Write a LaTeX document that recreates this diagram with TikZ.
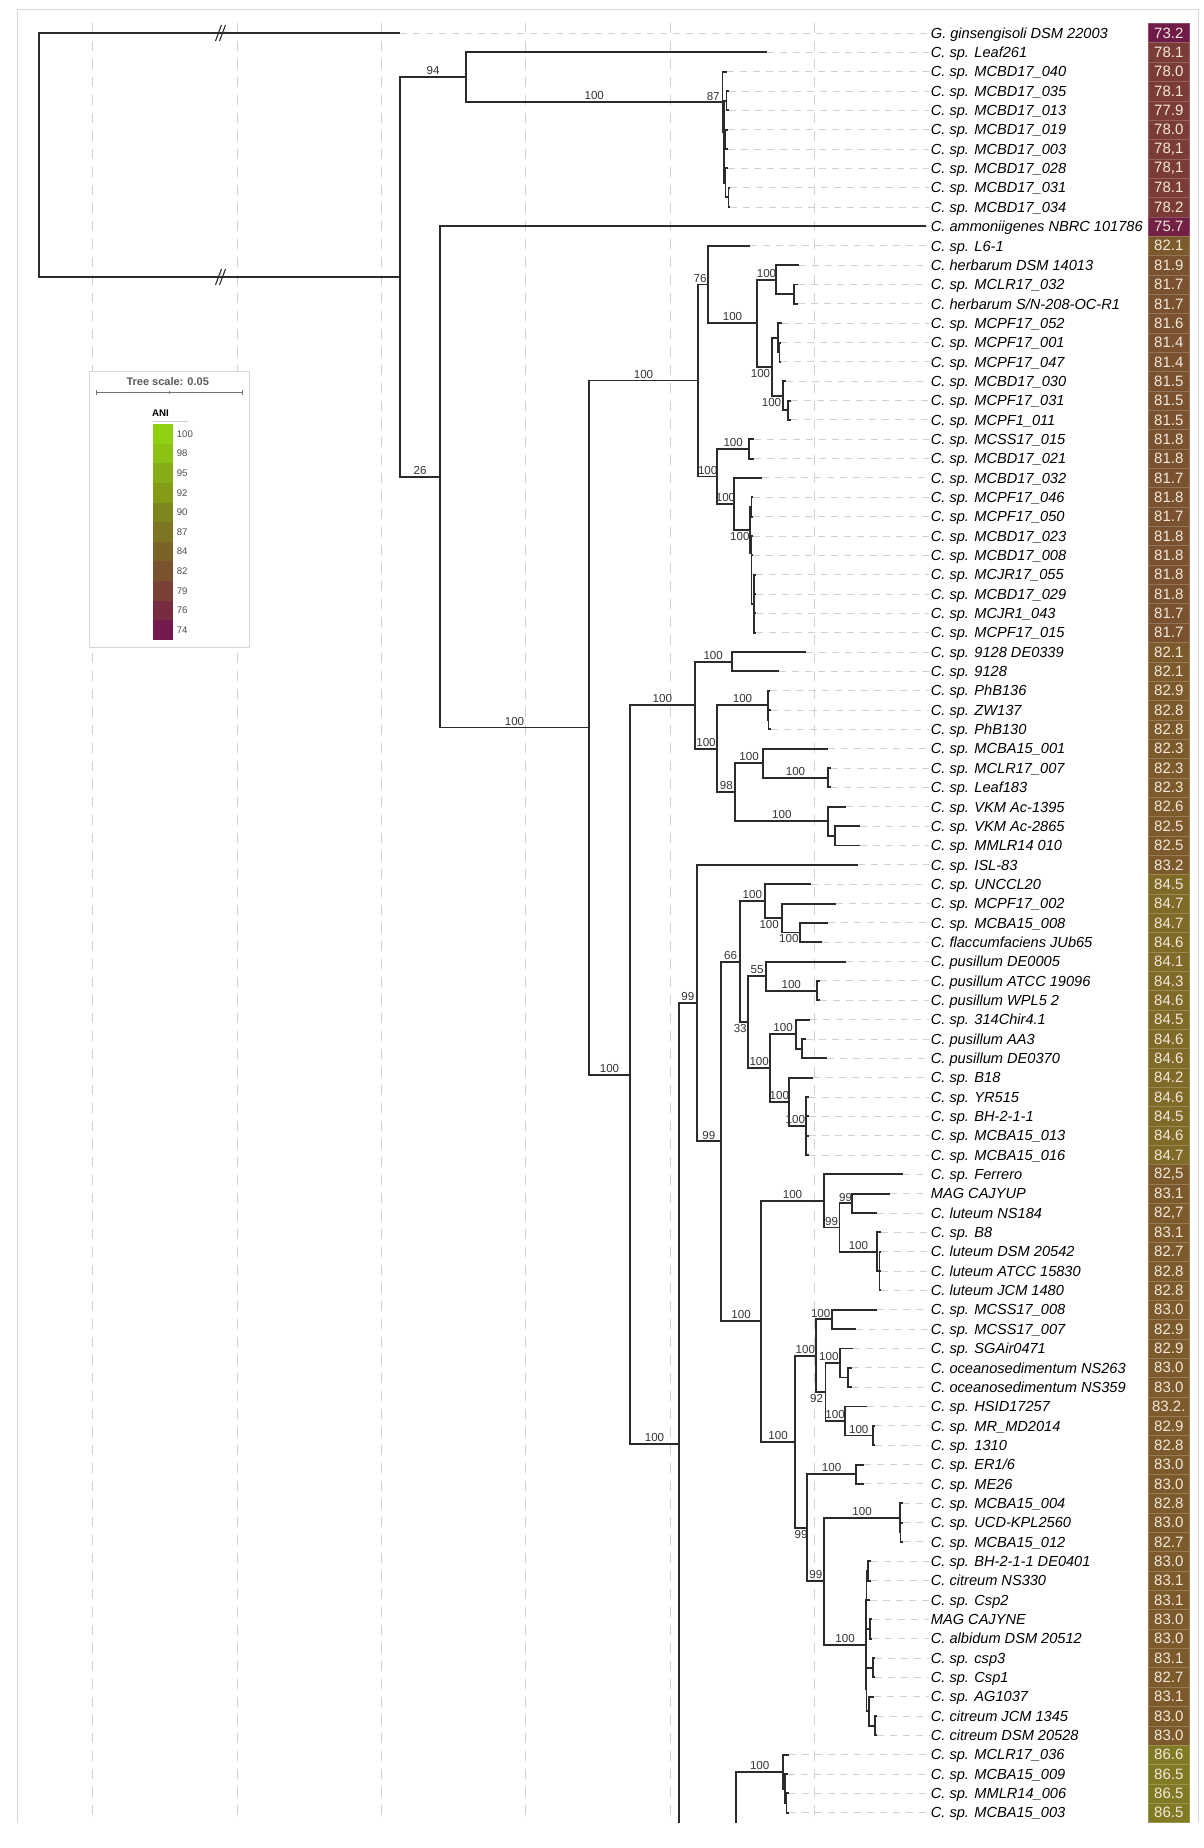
\documentclass[tikz,border=0pt]{standalone}
\usepackage{fontspec}
\setmainfont{Liberation Sans}

\definecolor{treeline}{HTML}{2B2B2B}
\definecolor{gridgray}{HTML}{D0D0D0}
\definecolor{framegray}{HTML}{D6D6D6}
\definecolor{bstext}{HTML}{353535}
\definecolor{anitext}{RGB}{242,232,220}
\definecolor{aniA}{RGB}{112,26,72}
\definecolor{aniB}{RGB}{114,32,68}
\definecolor{aniC}{RGB}{123,59,54}
\definecolor{aniD}{RGB}{123,82,47}
\definecolor{aniE}{RGB}{125,90,44}
\definecolor{aniF}{RGB}{127,106,40}
\definecolor{aniG}{RGB}{128,122,36}
\definecolor{leg100}{HTML}{8FD011}
\definecolor{leg98}{HTML}{8CC214}
\definecolor{leg95}{HTML}{87AD16}
\definecolor{leg92}{HTML}{849B18}
\definecolor{leg90}{HTML}{7F871C}
\definecolor{leg87}{HTML}{7D7522}
\definecolor{leg84}{HTML}{7B6328}
\definecolor{leg82}{HTML}{7A522E}
\definecolor{leg79}{HTML}{7A4236}
\definecolor{leg76}{HTML}{772C42}
\definecolor{leg74}{HTML}{751A4D}

% row, tip x, name, ANI, colour
\newcommand\leaf[5]{%
  \coordinate (t#1) at (#2,{33+(#1-1)*19.345});
  \node[taxon] (n#1) at (928.7,{38.2+(#1-1)*19.345}) {#3};
  \node[anibox, fill=#5, draw=#5!80!white] (a#1) at (1168.8,{33+(#1-1)*19.345}) {#4};
  \draw[guide] (t#1) -- (t#1 -| n#1.west);
}

\begin{document}
\begin{tikzpicture}[
x=1pt, y=-1pt,
branch/.style={draw=treeline, line width=1.95pt},
guide/.style={draw=gridgray, line width=0.9pt, dash pattern=on 7pt off 6pt},
gridline/.style={draw=gridgray, line width=1pt, dash pattern=on 10pt off 8pt},
framebox/.style={draw=framegray, line width=1pt},
taxon/.style={anchor=base west, inner xsep=2pt, inner ysep=0pt, font=\fontsize{14.6}{17}\selectfont\itshape},
anibox/.style={minimum width=41pt, minimum height=19.345pt, inner sep=0pt, line width=0.4pt, text=anitext, font=\fontsize{15}{15}\selectfont},
bs/.style={pos=.75, above=1.3pt, inner sep=0pt, text=bstext, font=\fontsize{11.6}{12}\selectfont},
bsb/.style={pos=.75, below=1.3pt, inner sep=0pt, text=bstext, font=\fontsize{11.6}{12}\selectfont},
bsat/.style={above=1.3pt, inner sep=0pt, text=bstext, font=\fontsize{11.6}{12}\selectfont},
legnum/.style={anchor=west, inner sep=0pt, text=black!70, font=\fontsize{9.6}{10}\selectfont},
breakmark/.style={draw=treeline, line width=1.1pt}
]
\useasboundingbox (0,0) rectangle (1204,1848);
\fill[white] (0,0) rectangle (1204,1848);

\foreach \gx in {92.7,237.3,381.7,525.6,670,814.4}
  \draw[gridline] (\gx,23) -- (\gx,1823);
\draw[framebox] (17.3,1823) |- (1198.3,9.3) -- (1198.3,1823);

% legend
\draw[draw=framegray, fill=white, line width=1pt] (89.3,371.7) rectangle (249.3,647.3);
\node[text=black!65, font=\fontsize{11}{12}\selectfont\bfseries] (scaletitle) at (167.7,381.7) {Tree scale: 0.05};
\draw[black!55, line width=0.9pt] (96.7,392.7) -- (242,392.7)
  (96.7,390.2) -- (96.7,395.2) (169.3,391) -- (169.3,394.4) (242,390.2) -- (242,395.2);
\node[font=\fontsize{9.7}{10}\selectfont\bfseries] (anititle) at (160.5,413.3) {ANI};
\draw[black!20, line width=0.8pt] (152.7,421.7) -- (188.3,421.7);
\foreach \v [count=\k] in {100,98,95,92,90,87,84,82,79,76,74}{
  \fill[leg\v] (153.3,{424+(\k-1)*19.64}) rectangle (173.3,{424+\k*19.64});
  \node[legnum] (lg\v) at (176.7,{424+(\k-0.5)*19.64}) {\v};
}

% leaves
\leaf{1}{400}{G. ginsengisoli DSM 22003}{73.2}{aniA}
\leaf{2}{766.5}{C. sp. Leaf261}{78.1}{aniC}
\leaf{3}{727}{C. sp. MCBD17\_040}{78.0}{aniC}
\leaf{4}{728.5}{C. sp. MCBD17\_035}{78.1}{aniC}
\leaf{5}{728.5}{C. sp. MCBD17\_013}{77.9}{aniC}
\leaf{6}{727.5}{C. sp. MCBD17\_019}{78.0}{aniC}
\leaf{7}{727.5}{C. sp. MCBD17\_003}{78,1}{aniC}
\leaf{8}{728}{C. sp. MCBD17\_028}{78,1}{aniC}
\leaf{9}{730}{C. sp. MCBD17\_031}{78.1}{aniC}
\leaf{10}{730}{C. sp. MCBD17\_034}{78.2}{aniC}
\leaf{11}{926}{C. ammoniigenes NBRC 101786}{75.7}{aniB}
\leaf{12}{750}{C. sp. L6-1}{82.1}{aniE}
\leaf{13}{799}{C. herbarum DSM 14013}{81.9}{aniD}
\leaf{14}{798}{C. sp. MCLR17\_032}{81.7}{aniD}
\leaf{15}{798}{C. herbarum S/N-208-OC-R1}{81.7}{aniD}
\leaf{16}{782}{C. sp. MCPF17\_052}{81.6}{aniD}
\leaf{17}{781}{C. sp. MCPF17\_001}{81.4}{aniD}
\leaf{18}{781}{C. sp. MCPF17\_047}{81.4}{aniD}
\leaf{19}{786}{C. sp. MCBD17\_030}{81.5}{aniD}
\leaf{20}{790.5}{C. sp. MCPF17\_031}{81.5}{aniD}
\leaf{21}{790.5}{C. sp. MCPF1\_011}{81.5}{aniD}
\leaf{22}{753.5}{C. sp. MCSS17\_015}{81.8}{aniD}
\leaf{23}{753.5}{C. sp. MCBD17\_021}{81.8}{aniD}
\leaf{24}{762}{C. sp. MCBD17\_032}{81.7}{aniD}
\leaf{25}{753}{C. sp. MCPF17\_046}{81.8}{aniD}
\leaf{26}{753}{C. sp. MCPF17\_050}{81.7}{aniD}
\leaf{27}{753}{C. sp. MCBD17\_023}{81.8}{aniD}
\leaf{28}{753}{C. sp. MCBD17\_008}{81.8}{aniD}
\leaf{29}{755.5}{C. sp. MCJR17\_055}{81.8}{aniD}
\leaf{30}{755.5}{C. sp. MCBD17\_029}{81.8}{aniD}
\leaf{31}{755.5}{C. sp. MCJR1\_043}{81.7}{aniD}
\leaf{32}{755.5}{C. sp. MCPF17\_015}{81.7}{aniD}
\leaf{33}{805.5}{C. sp. 9128 DE0339}{82.1}{aniE}
\leaf{34}{778.8}{C. sp. 9128}{82.1}{aniE}
\leaf{35}{769.5}{C. sp. PhB136}{82.9}{aniE}
\leaf{36}{770.5}{C. sp. ZW137}{82.8}{aniE}
\leaf{37}{770.5}{C. sp. PhB130}{82.8}{aniE}
\leaf{38}{828}{C. sp. MCBA15\_001}{82.3}{aniE}
\leaf{39}{831}{C. sp. MCLR17\_007}{82.3}{aniE}
\leaf{40}{831}{C. sp. Leaf183}{82.3}{aniE}
\leaf{41}{845.8}{C. sp. VKM Ac-1395}{82.6}{aniE}
\leaf{42}{860}{C. sp. VKM Ac-2865}{82.5}{aniE}
\leaf{43}{860}{C. sp. MMLR14 010}{82.5}{aniE}
\leaf{44}{858}{C. sp. ISL-83}{83.2}{aniE}
\leaf{45}{810.7}{C. sp. UNCCL20}{84.5}{aniF}
\leaf{46}{836}{C. sp. MCPF17\_002}{84.7}{aniF}
\leaf{47}{828.3}{C. sp. MCBA15\_008}{84.7}{aniF}
\leaf{48}{822}{C. flaccumfaciens JUb65}{84.6}{aniF}
\leaf{49}{845.8}{C. pusillum DE0005}{84.1}{aniF}
\leaf{50}{820}{C. pusillum ATCC 19096}{84.3}{aniF}
\leaf{51}{820}{C. pusillum WPL5 2}{84.6}{aniF}
\leaf{52}{809.7}{C. sp. 314Chir4.1}{84.5}{aniF}
\leaf{53}{806}{C. pusillum AA3}{84.6}{aniF}
\leaf{54}{826.5}{C. pusillum DE0370}{84.6}{aniF}
\leaf{55}{813.2}{C. sp. B18}{84.2}{aniF}
\leaf{56}{808.5}{C. sp. YR515}{84.6}{aniF}
\leaf{57}{809}{C. sp. BH-2-1-1}{84.5}{aniF}
\leaf{58}{809}{C. sp. MCBA15\_013}{84.6}{aniF}
\leaf{59}{809}{C. sp. MCBA15\_016}{84.7}{aniF}
\leaf{60}{903.3}{C. sp. Ferrero}{82,5}{aniE}
\leaf{61}{890.3}{MAG CAJYUP}{83.1}{aniE}
\leaf{62}{877.4}{C. luteum NS184}{82,7}{aniE}
\leaf{63}{880.5}{C. sp. B8}{83.1}{aniE}
\leaf{64}{881}{C. luteum DSM 20542}{82.7}{aniE}
\leaf{65}{881}{C. luteum ATCC 15830}{82.8}{aniE}
\leaf{66}{881}{C. luteum JCM 1480}{82.8}{aniE}
\leaf{67}{877.4}{C. sp. MCSS17\_008}{83.0}{aniE}
\leaf{68}{856}{C. sp. MCSS17\_007}{82.9}{aniE}
\leaf{69}{852.8}{C. sp. SGAir0471}{82.9}{aniE}
\leaf{70}{851.8}{C. oceanosedimentum NS263}{83.0}{aniE}
\leaf{71}{851.8}{C. oceanosedimentum NS359}{83.0}{aniE}
\leaf{72}{866.8}{C. sp. HSID17257}{83.2.}{aniE}
\leaf{73}{875}{C. sp. MR\_MD2014}{82.9}{aniE}
\leaf{74}{875}{C. sp. 1310}{82.8}{aniE}
\leaf{75}{864}{C. sp. ER1/6}{83.0}{aniE}
\leaf{76}{864}{C. sp. ME26}{83.0}{aniE}
\leaf{77}{902.5}{C. sp. MCBA15\_004}{82.8}{aniE}
\leaf{78}{902.5}{C. sp. UCD-KPL2560}{83.0}{aniE}
\leaf{79}{902.5}{C. sp. MCBA15\_012}{82.7}{aniE}
\leaf{80}{870.5}{C. sp. BH-2-1-1 DE0401}{83.0}{aniE}
\leaf{81}{870.5}{C. citreum NS330}{83.1}{aniE}
\leaf{82}{870}{C. sp. Csp2}{83.1}{aniE}
\leaf{83}{871.5}{MAG CAJYNE}{83.0}{aniE}
\leaf{84}{871.5}{C. albidum DSM 20512}{83.0}{aniE}
\leaf{85}{874.5}{C. sp. csp3}{83.1}{aniE}
\leaf{86}{874.5}{C. sp. Csp1}{82.7}{aniE}
\leaf{87}{873.5}{C. sp. AG1037}{83.1}{aniE}
\leaf{88}{876.5}{C. citreum JCM 1345}{83.0}{aniE}
\leaf{89}{876.5}{C. citreum DSM 20528}{83.0}{aniE}
\leaf{90}{788.6}{C. sp. MCLR17\_036}{86.6}{aniG}
\leaf{91}{787.5}{C. sp. MCBA15\_009}{86.5}{aniG}
\leaf{92}{788.5}{C. sp. MMLR14\_006}{86.5}{aniG}
\leaf{93}{788.5}{C. sp. MCBA15\_003}{86.5}{aniG}

% inner nodes
\coordinate (root) at (39.3,155);
\coordinate (A) at (400,277);
\coordinate (N94) at (466,77);
\coordinate (M) at (722.5,101.7);
\coordinate (M1) at (724,131.7);
\coordinate (Ma) at (726.5,100.7);
\coordinate (Mb) at (725.5,139.4);
\coordinate (M2) at (725.5,182.9);
\coordinate (M3) at (728.5,197.4);
\coordinate (B) at (440,477);
\coordinate (C) at (589,727.5);
\coordinate (D) at (698,380.5);
\coordinate (D1) at (708,284.5);
\coordinate (D1a) at (757,323.2);
\coordinate (D1a1) at (776,279.7);
\coordinate (D1a1s) at (794,294.2);
\coordinate (D1a2) at (772,366.7);
\coordinate (D1a2a) at (778,337.7);
\coordinate (D1a2as) at (779.5,352.2);
\coordinate (D1a2b) at (783,395.7);
\coordinate (D1a2bs) at (788,410.2);
\coordinate (D2) at (717.4,476.5);
\coordinate (D2a) at (749,448.9);
\coordinate (D2b) at (733.6,504);
\coordinate (D2c) at (750,530);
\coordinate (c1) at (751.5,507);
\coordinate (c2) at (751.5,553);
\coordinate (c3) at (754,603.7);
\coordinate (E) at (630,1074.6);
\coordinate (E1) at (694.6,705.2);
\coordinate (E1a) at (731.8,661.7);
\coordinate (E1b) at (717.4,748.7);
\coordinate (E1b1) at (767.6,705.2);
\coordinate (E1b1s) at (768.5,719.8);
\coordinate (E1b2) at (735.3,792.3);
\coordinate (E1b2a) at (763,763.3);
\coordinate (E1b2as) at (828,777.8);
\coordinate (E1b2b) at (828.3,821.3);
\coordinate (E1b2bs) at (835,835.8);
\coordinate (E2) at (679,1444);
\coordinate (E2cut) at (679,1823);
\coordinate (E2a) at (696.7,1003.1);
\coordinate (E2a2) at (721,1141.4);
\coordinate (E2a2a) at (740,961.6);
\coordinate (T) at (764.8,901.1);
\coordinate (T2) at (781.6,918);
\coordinate (T3) at (800.2,932.5);
\coordinate (U) at (748.4,1022);
\coordinate (U1) at (765.8,976.1);
\coordinate (U1a) at (816.7,990.6);
\coordinate (U2) at (770,1068);
\coordinate (U2a) at (796.3,1034.1);
\coordinate (U2as) at (801.6,1048.6);
\coordinate (U2b) at (788.6,1101.8);
\coordinate (U2bs) at (806.2,1126);
\coordinate (E2a2b) at (761.3,1321.3);
\coordinate (V1) at (823.7,1200.9);
\coordinate (V1a) at (839.5,1227.5);
\coordinate (V1a1) at (851.8,1203.4);
\coordinate (V1a2) at (877.4,1251.7);
\coordinate (V1a2s) at (879.5,1271.1);
\coordinate (V2) at (795,1441.7);
\coordinate (V2a) at (815.6,1355.7);
\coordinate (V2a1) at (831.8,1319.4);
\coordinate (V2a2) at (825.5,1392);
\coordinate (V2a2a) at (840.2,1363);
\coordinate (V2a2as) at (848.2,1377.5);
\coordinate (V2a2b) at (844.7,1421);
\coordinate (V2a2bs) at (872.8,1435.5);
\coordinate (V2b) at (807.2,1527.7);
\coordinate (V2b1) at (856,1474.2);
\coordinate (V2b2) at (824.4,1581.2);
\coordinate (V2b2a) at (899.8,1517.7);
\coordinate (V2b2as) at (900.5,1532.2);
\coordinate (V2b2b) at (865.8,1644.7);
\coordinate (P) at (866.5,1599.9);
\coordinate (s1) at (868.2,1570.9);
\coordinate (s2) at (869.8,1629);
\coordinate (Q) at (866.5,1689.4);
\coordinate (s3) at (872.8,1667.7);
\coordinate (s4) at (869.3,1711.2);
\coordinate (s5) at (875.3,1725.7);
\coordinate (Wcut) at (736,1823);
\coordinate (X) at (783.4,1771.6);
\coordinate (Xs) at (785,1788.6);
\coordinate (Xss) at (786.5,1803.1);

% outgroup and first split
\draw[branch] (root) |- (t1);
\draw[branch] (root) |- (A);
\draw[breakmark] (215.5,41) -- (221.5,25) (219.5,41) -- (225.5,25);
\draw[breakmark] (215.5,285) -- (221.5,269) (219.5,285) -- (225.5,269);
\draw[branch] (A) |- node[bs] (b94) {94} (N94);
\draw[branch] (A) |- node[bs] (b26) {26} (B);
\draw[branch] (N94) |- (t2);
\draw[branch] (N94) |- node[bs] (bM) {100} (M);
\node[bsat] (b87) at (713.2,101.7) {87};
\draw[branch] (M) |- (t3) (M) |- (M1);
\draw[branch] (M1) |- (Ma) (M1) |- (Mb) (M1) |- (M2);
\draw[branch] (Ma) |- (t4) (Ma) |- (t5) (Mb) |- (t6) (Mb) |- (t7);
\draw[branch] (M2) |- (t8) (M2) |- (M3) (M3) |- (t9) (M3) |- (t10);
\draw[branch] (B) |- (t11);
\draw[branch] (B) |- node[bs] (bC) {100} (C);

% upper clade
\draw[branch] (C) |- node[bs] (bD) {100} (D);
\draw[branch] (D) |- node[bs, xshift=-3pt] (bD1) {76} (D1);
\draw[branch] (D) |- node[bs] (bD2) {100} (D2);
\draw[branch] (D1) |- (t12);
\draw[branch] (D1) |- node[bs] (bD1a) {100} (D1a);
\draw[branch] (D1a) |- node[bs] (bD1a1) {100} (D1a1);
\draw[branch] (D1a) |- node[bsb, xshift=-4pt] (bD1a2) {100} (D1a2);
\draw[branch] (D1a1) |- (t13) (D1a1) |- (D1a1s) (D1a1s) |- (t14) (D1a1s) |- (t15);
\draw[branch] (D1a2) |- (D1a2a) (D1a2a) |- (t16) (D1a2a) |- (D1a2as) (D1a2as) |- (t17) (D1a2as) |- (t18);
\draw[branch] (D1a2) |- node[bsb, xshift=-6pt] (bD1a2b) {100} (D1a2b);
\draw[branch] (D1a2b) |- (t19) (D1a2b) |- (D1a2bs) (D1a2bs) |- (t20) (D1a2bs) |- (t21);
\draw[branch] (D2) |- node[bs] (bD2a) {100} (D2a);
\draw[branch] (D2a) |- (t22) (D2a) |- (t23);
\draw[branch] (D2) |- node[bs] (bD2b) {100} (D2b);
\draw[branch] (D2b) |- (t24);
\draw[branch] (D2b) |- node[bsb, xshift=-2pt] (bD2c) {100} (D2c);
\draw[branch] (D2c) |- (c1) (c1) |- (t25) (c1) |- (t26);
\draw[branch] (D2c) |- (c2) (c2) |- (t27) (c2) |- (t28) (c2) |- (c3);
\draw[branch] (c3) |- (t29) (c3) |- (t30) (c3) |- (t31) (c3) |- (t32);

% lower clade
\draw[branch] (C) |- node[bs] (bE) {100} (E);
\draw[branch] (E) |- node[bs] (bE1) {100} (E1);
\draw[branch] (E) |- node[bs] (bE2) {100} (E2);
\draw[branch] (E2) -- (E2cut);
\draw[branch] (E1) |- node[bs] (bE1a) {100} (E1a);
\draw[branch] (E1a) |- (t33) (E1a) |- (t34);
\draw[branch] (E1) |- node[bs] (bE1b) {100} (E1b);
\draw[branch] (E1b) |- node[bs] (bE1b1) {100} (E1b1);
\draw[branch] (E1b1) |- (t35) (E1b1) |- (E1b1s) (E1b1s) |- (t36) (E1b1s) |- (t37);
\draw[branch] (E1b) |- node[bs] (bE1b2) {98} (E1b2);
\draw[branch] (E1b2) |- node[bs] (bE1b2a) {100} (E1b2a);
\draw[branch] (E1b2a) |- (t38);
\draw[branch] (E1b2a) |- node[bs] (bE1b2as) {100} (E1b2as);
\draw[branch] (E1b2as) |- (t39) (E1b2as) |- (t40);
\draw[branch] (E1b2) |- node[bs] (bE1b2b) {100} (E1b2b);
\draw[branch] (E1b2b) |- (t41) (E1b2b) |- (E1b2bs) (E1b2bs) |- (t42) (E1b2bs) |- (t43);

\draw[branch] (E2) |- node[bs] (bE2a) {99} (E2a);
\draw[branch] (E2a) |- (t44);
\draw[branch] (E2a) |- node[bs] (bE2a2) {99} (E2a2);
\draw[branch] (E2a2) |- node[bs] (bE2a2a) {66} (E2a2a);
\draw[branch] (E2a2a) |- node[bs] (bT) {100} (T);
\draw[branch] (T) |- (t45);
\draw[branch] (T) |- node[bsb, xshift=-4pt] (bT2) {100} (T2);
\draw[branch] (T2) |- (t46);
\draw[branch] (T2) |- node[bsb, xshift=-2pt] (bT3) {100} (T3);
\draw[branch] (T3) |- (t47) (T3) |- (t48);
\draw[branch] (E2a2a) |- node[bsb, xshift=-4pt] (bU) {33} (U);
\draw[branch] (U) |- node[bs] (bU1) {55} (U1);
\draw[branch] (U1) |- (t49);
\draw[branch] (U1) |- node[bs] (bU1a) {100} (U1a);
\draw[branch] (U1a) |- (t50) (U1a) |- (t51);
\draw[branch] (U) |- node[bs] (bU2) {100} (U2);
\draw[branch] (U2) |- node[bs] (bU2a) {100} (U2a);
\draw[branch] (U2a) |- (t52) (U2a) |- (U2as) (U2as) |- (t53) (U2as) |- (t54);
\draw[branch] (U2) |- node[bs] (bU2b) {100} (U2b);
\draw[branch] (U2b) |- (t55);
\draw[branch] (U2b) |- node[bs, xshift=-2pt] (bU2bs) {100} (U2bs);
\draw[branch] (U2bs) |- (t56) (U2bs) |- (t57) (U2bs) |- (t58) (U2bs) |- (t59);

\draw[branch] (E2a2) |- node[bs] (bE2a2b) {100} (E2a2b);
\draw[branch] (E2a2b) |- node[bs] (bV1) {100} (V1);
\draw[branch] (V1) |- (t60);
\draw[branch] (V1) |- node[bs] (bV1a) {99} (V1a);
\draw[branch] (V1a) |- node[bs] (bV1a1) {99} (V1a1);
\draw[branch] (V1a1) |- (t61) (V1a1) |- (t62);
\draw[branch] (V1a) |- node[bs] (bV1a2) {100} (V1a2);
\draw[branch] (V1a2) |- (t63) (V1a2) |- (V1a2s) (V1a2s) |- (t64) (V1a2s) |- (t65) (V1a2s) |- (t66);
\draw[branch] (E2a2b) |- node[bs] (bV2) {100} (V2);
\draw[branch] (V2) |- node[bs] (bV2a) {100} (V2a);
\draw[branch] (V2a) |- node[bs, xshift=-3pt] (bV2a1) {100} (V2a1);
\draw[branch] (V2a1) |- (t67) (V2a1) |- (t68);
\draw[branch] (V2a) |- node[bsb, xshift=-4pt] (bV2a2) {92} (V2a2);
\draw[branch] (V2a2) |- node[bs, xshift=-4pt] (bV2a2a) {100} (V2a2a);
\draw[branch] (V2a2a) |- (t69) (V2a2a) |- (V2a2as) (V2a2as) |- (t70) (V2a2as) |- (t71);
\draw[branch] (V2a2) |- node[bs] (bV2a2b) {100} (V2a2b);
\draw[branch] (V2a2b) |- (t72);
\draw[branch] (V2a2b) |- node[bs] (bV2a2bs) {100} (V2a2bs);
\draw[branch] (V2a2bs) |- (t73) (V2a2bs) |- (t74);
\draw[branch] (V2) |- node[bsb] (bV2b) {99} (V2b);
\draw[branch] (V2b) |- node[bs] (bV2b1) {100} (V2b1);
\draw[branch] (V2b1) |- (t75) (V2b1) |- (t76);
\draw[branch] (V2b) |- node[bs] (bV2b2) {99} (V2b2);
\draw[branch] (V2b2) |- node[bs] (bV2b2a) {100} (V2b2a);
\draw[branch] (V2b2a) |- (t77) (V2b2a) |- (V2b2as) (V2b2as) |- (t78) (V2b2as) |- (t79);
\draw[branch] (V2b2) |- node[bs] (bV2b2b) {100} (V2b2b);
\draw[branch] (V2b2b) |- (P) (V2b2b) |- (Q);
\draw[branch] (P) |- (s1) (s1) |- (t80) (s1) |- (t81) (P) |- (t82) (P) |- (s2) (s2) |- (t83) (s2) |- (t84);
\draw[branch] (Q) |- (s3) (s3) |- (t85) (s3) |- (t86) (Q) |- (s4) (s4) |- (t87) (s4) |- (s5) (s5) |- (t88) (s5) |- (t89);

\draw[branch] (Wcut) |- node[bs] (bX) {100} (X);
\draw[branch] (X) |- (t90) (X) |- (Xs) (Xs) |- (t91) (Xs) |- (Xss) (Xss) |- (t92) (Xss) |- (t93);
\end{tikzpicture}
\end{document}
